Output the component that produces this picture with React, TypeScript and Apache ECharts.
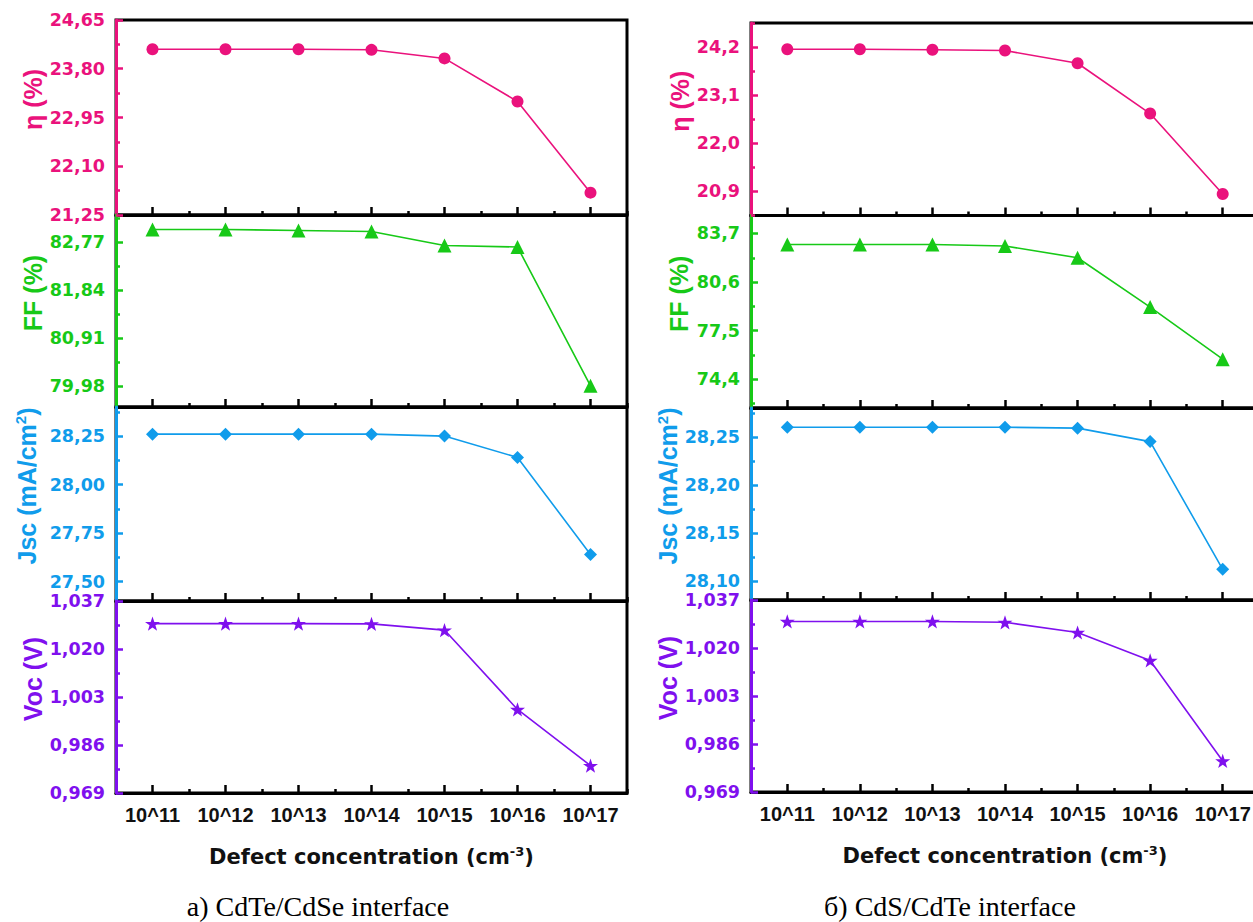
import { useEffect, useRef } from "react";
import * as echarts from "echarts";

// ---------- data ----------
const exponents = [11, 12, 13, 14, 15, 16, 17];
const xTickLabels = ["10^11", "10^12", "10^13", "10^14", "10^15", "10^16", "10^17"];

// a) CdTe/CdSe interface
const etaA = [24.14, 24.14, 24.14, 24.13, 23.98, 23.23, 21.64];
const ffA = [83.02, 83.02, 83.0, 82.98, 82.71, 82.68, 79.99];
const jscA = [28.26, 28.26, 28.26, 28.26, 28.25, 28.14, 27.64];
const vocA = [1.029, 1.029, 1.029, 1.0289, 1.0267, 0.9986, 0.9787];

// б) CdS/CdTe interface
const etaB = [24.15, 24.15, 24.14, 24.12, 23.83, 22.68, 20.84];
const ffB = [83.0, 83.0, 83.0, 82.9, 82.15, 79.0, 75.67];
const jscB = [28.26, 28.26, 28.26, 28.26, 28.259, 28.245, 28.112];
const vocB = [1.0294, 1.0294, 1.0294, 1.0291, 1.0255, 1.0156, 0.98];

// tick labels and axis extents
const etaTicksA = [21.25, 22.1, 22.95, 23.8, 24.65];
const etaRangeA = [21.25, 24.65];
const ffTicksA = [79.98, 80.91, 81.84, 82.77];
const ffRangeA = [79.58, 83.3];
const jscTicksA = [27.5, 27.75, 28.0, 28.25];
const jscRangeA = [27.4, 28.4];
const vocTicksA = [0.969, 0.986, 1.003, 1.02, 1.037];
const vocRangeA = [0.969, 1.037];

const etaTicksB = [20.9, 22.0, 23.1, 24.2];
const etaRangeB = [20.35, 24.75];
const ffTicksB = [74.4, 77.5, 80.6, 83.7];
const ffRangeB = [72.55, 84.85];
const jscTicksB = [28.1, 28.15, 28.2, 28.25];
const jscRangeB = [28.08, 28.28];
const vocTicksB = [0.969, 0.986, 1.003, 1.02, 1.037];
const vocRangeB = [0.969, 1.037];

const xRange = [10.5, 17.5];

// ---------- styles ----------
const PINK = "#EA127C";
const GREEN = "#17C917";
const BLUE = "#109CEB";
const PURPLE = "#7F10EE";
const STAR =
  "path://M50,0 L61.8,35.1 L98.1,35.1 L68.8,56.7 L79.4,91 L50,70 L20.6,91 L31.2,56.7 L1.9,35.1 L38.2,35.1 Z";
const SANS = '"Liberation Sans", Arial, sans-serif';
const WIDE = '"DejaVu Sans", "Liberation Sans", sans-serif';

const metrics = [
  { name: "η (%)", color: PINK, symbol: "circle", size: 12 },
  { name: "FF (%)", color: GREEN, symbol: "triangle", size: 14 },
  { name: "Jsc (mA/cm{sup|2})", color: BLUE, symbol: "diamond", size: 13 },
  { name: "Voc (V)", color: PURPLE, symbol: STAR, size: 15 },
];

const panels = [
  {
    left: 116,
    width: 511,
    rows: [
      [20, 195],
      [215, 192],
      [407, 194],
      [601, 192],
    ],
    nameGaps: [64, 63, 76, 70],
    data: [etaA, ffA, jscA, vocA],
    ticks: [etaTicksA, ffTicksA, jscTicksA, vocTicksA],
    ranges: [etaRangeA, ffRangeA, jscRangeA, vocRangeA],
    decimals: [2, 2, 2, 3],
  },
  {
    left: 751,
    width: 508,
    rows: [
      [23, 192.5],
      [215.5, 192.5],
      [408, 192],
      [600, 192],
    ],
    nameGaps: [58, 60, 68, 67],
    data: [etaB, ffB, jscB, vocB],
    ticks: [etaTicksB, ffTicksB, jscTicksB, vocTicksB],
    ranges: [etaRangeB, ffRangeB, jscRangeB, vocRangeB],
    decimals: [1, 1, 2, 3],
  },
];

function round6(v: number) {
  return Math.round(v * 1e6) / 1e6;
}

// midpoints between labelled ticks (and half a step beyond them) that lie in range
function minorValues(ticks: number[], range: number[]) {
  const step = ticks[1] - ticks[0];
  const out: number[] = [];
  for (let k = -6; k < ticks.length + 6; k++) {
    const v = round6(ticks[0] + (k + 0.5) * step);
    if (v >= range[0] - 1e-9 && v <= range[1] + 1e-9) out.push(v);
  }
  return out;
}

function buildOption() {
  const grid: any[] = [];
  const xAxis: any[] = [];
  const yAxis: any[] = [];
  const series: any[] = [];
  const xMinor = minorValues(exponents, xRange);

  panels.forEach((p) => {
    p.rows.forEach(([top, height], r) => {
      const g = grid.length;
      const m = metrics[r];
      grid.push({
        left: p.left,
        width: p.width,
        top,
        height,
        show: true,
        borderColor: "#000",
        borderWidth: 3,
        backgroundColor: "transparent",
        containLabel: false,
        outerBoundsMode: "none",
      });
      const isBottom = r === 3;
      // main x axis
      xAxis.push({
        type: "value",
        gridIndex: g,
        min: xRange[0],
        max: xRange[1],
        position: "bottom",
        axisLine: { show: true, lineStyle: { color: "#000", width: 3 } },
        axisTick: {
          show: true,
          inside: true,
          length: 8,
          customValues: exponents,
          lineStyle: { color: "#000", width: 2.5 },
        },
        splitLine: { show: false },
        axisLabel: {
          show: isBottom,
          customValues: exponents,
          margin: 12,
          color: "#111",
          fontFamily: SANS,
          fontWeight: "bold",
          fontSize: 20,
          formatter: (v: number) => {
            const i = exponents.indexOf(Math.round(v * 1000) / 1000);
            return i >= 0 ? xTickLabels[i] : "";
          },
        },
        name: isBottom ? "Defect concentration (cm{sup|-3})" : "",
        nameLocation: "middle",
        nameGap: 52,
        nameTextStyle: {
          color: "#111",
          fontFamily: WIDE,
          fontWeight: "bold",
          fontSize: 21,
          rich: {
            sup: {
              fontSize: 13,
              fontWeight: "bold",
              fontFamily: WIDE,
              color: "#111",
              verticalAlign: "top",
              padding: [0, 0, 11, 0],
            },
          },
        },
        z: 4,
      });
      // minor x ticks
      xAxis.push({
        type: "value",
        gridIndex: g,
        min: xRange[0],
        max: xRange[1],
        position: "bottom",
        axisLine: { show: false },
        axisTick: {
          show: true,
          inside: true,
          length: 4,
          customValues: xMinor,
          lineStyle: { color: "#000", width: 2.5 },
        },
        splitLine: { show: false },
        axisLabel: { show: false },
        z: 4,
      });

      const ticks = p.ticks[r];
      const dec = p.decimals[r];
      const range = p.ranges[r];
      // main y axis
      yAxis.push({
        type: "value",
        gridIndex: g,
        min: range[0],
        max: range[1],
        position: "left",
        axisLine: { show: true, lineStyle: { color: m.color, width: 3 } },
        axisTick: {
          show: true,
          inside: true,
          length: 7,
          customValues: ticks,
          lineStyle: { color: m.color, width: 2.5 },
        },
        splitLine: { show: false },
        axisLabel: {
          show: true,
          customValues: ticks,
          margin: 11,
          color: m.color,
          fontFamily: WIDE,
          fontWeight: "bold",
          fontSize: 17.5,
          formatter: (v: number) => v.toFixed(dec).replace(".", ","),
        },
        name: m.name,
        nameLocation: "middle",
        nameRotate: 90,
        nameGap: p.nameGaps[r],
        nameTextStyle: {
          color: m.color,
          fontFamily: SANS,
          fontWeight: "bold",
          fontSize: 25,
          padding: [0, 0, 0, 36],
          rich: {
            sup: {
              fontSize: 15,
              fontWeight: "bold",
              fontFamily: SANS,
              color: m.color,
              verticalAlign: "top",
              padding: [0, 0, 12, 0],
            },
          },
        },
        z: 5,
      });
      // minor y ticks
      yAxis.push({
        type: "value",
        gridIndex: g,
        min: range[0],
        max: range[1],
        position: "left",
        offset: 0,
        axisLine: { show: false },
        axisTick: {
          show: true,
          inside: true,
          length: 4,
          customValues: minorValues(ticks, range),
          lineStyle: { color: m.color, width: 2.5 },
        },
        splitLine: { show: false },
        axisLabel: { show: false },
        z: 5,
      });

      series.push({
        type: "line",
        xAxisIndex: 2 * g,
        yAxisIndex: 2 * g,
        data: exponents.map((e, i) => [e, p.data[r][i]]),
        symbol: m.symbol,
        symbolSize: m.size,
        symbolKeepAspect: true,
        showSymbol: true,
        clip: false,
        lineStyle: { color: m.color, width: 1.6 },
        itemStyle: { color: m.color },
        z: 6,
      });
    });
  });

  return {
    animation: false,
    backgroundColor: "#fff",
    grid,
    xAxis,
    yAxis,
    series,
    graphic: [
      {
        type: "text",
        x: 318,
        y: 906,
        style: {
          text: "a) CdTe/CdSe interface",
          font: '28px "Liberation Serif", "Times New Roman", serif',
          fill: "#000",
          align: "center",
          verticalAlign: "middle",
        },
      },
      {
        type: "text",
        x: 950,
        y: 906,
        style: {
          text: "б) CdS/CdTe interface",
          font: '28px "Liberation Serif", "Times New Roman", serif',
          fill: "#000",
          align: "center",
          verticalAlign: "middle",
        },
      },
    ],
  };
}

export default function App() {
  const ref = useRef<HTMLDivElement>(null);
  useEffect(() => {
    if (!ref.current) return;
    const chart = echarts.init(ref.current, null, { renderer: "svg" });
    chart.setOption(buildOption() as any);
    return () => chart.dispose();
  }, []);
  return (
    <div
      ref={ref}
      style={{ position: "fixed", left: 0, top: 0, width: 1253, height: 922, background: "#fff" }}
    />
  );
}
